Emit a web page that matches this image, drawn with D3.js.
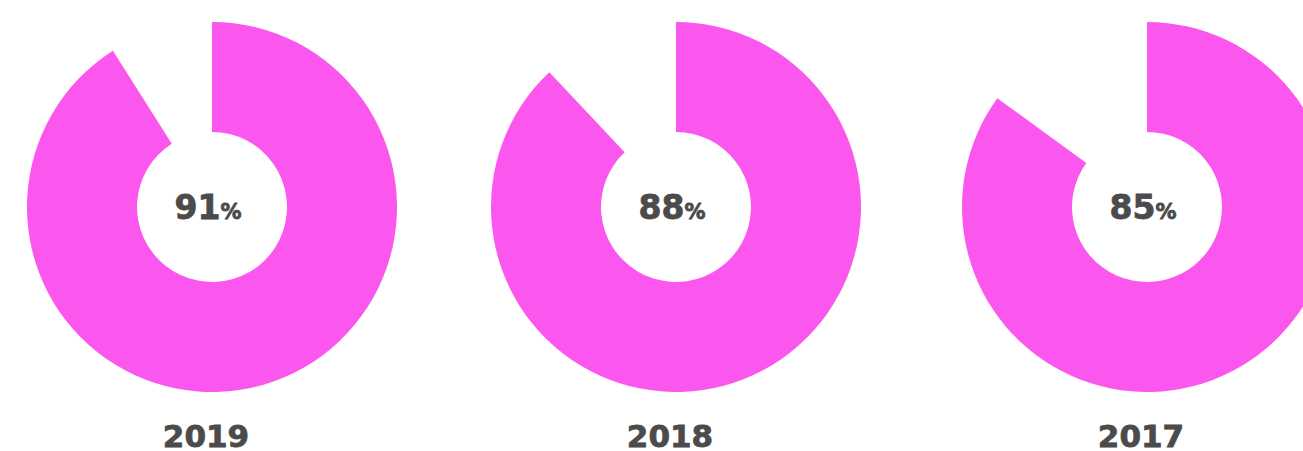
<!DOCTYPE html>
<html><head><meta charset="utf-8">
<script src="https://cdn.jsdelivr.net/npm/d3@7"></script>
<style>body{margin:0;background:#fff;overflow:hidden}</style>
</head><body>
<svg id="c" width="1303" height="451"></svg>
<script>
const years = ["2019", "2018", "2017"];
const values = [91, 88, 85];

const svg = d3.select("#c");
const x = d3.scaleOrdinal().domain(years).range([212, 676, 1147]);
const angle = d3.scaleLinear().domain([0, 100]).range([0, 2 * Math.PI]);
const arc = d3.arc().innerRadius(75).outerRadius(185);
const cy = 207;

years.forEach((y, i) => {
  const g = svg.append("g").attr("transform", `translate(${x(y)},${cy})`);
  g.append("path")
    .attr("d", arc({startAngle: 0, endAngle: angle(values[i])}))
    .attr("fill", "#fb57ee");
  const t = g.append("text")
    .attr("text-anchor", "middle")
    .attr("y", 12)
    .attr("x", -4)
    .attr("font-family", "'DejaVu Sans'")
    .attr("font-weight", 700)
    .attr("fill", "#4b4b4b")
    .attr("stroke", "#4b4b4b")
    .attr("stroke-width", 0.8);
  t.append("tspan").attr("font-size", 33).text(values[i]);
  t.append("tspan").attr("font-size", 21).text("%");
  svg.append("text")
    .attr("x", x(y) - 6)
    .attr("y", 447)
    .attr("text-anchor", "middle")
    .attr("font-family", "'DejaVu Sans'")
    .attr("font-weight", 700)
    .attr("font-size", 31)
    .attr("fill", "#4b4b4b")
    .attr("stroke", "#4b4b4b")
    .attr("stroke-width", 0.8)
    .text(y);
});
</script>
</body></html>
